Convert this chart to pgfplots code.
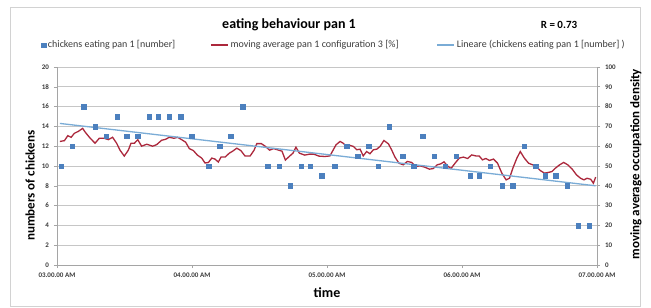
\documentclass[border=0pt]{standalone}
\usepackage{fontspec}
\setmainfont{Carlito}
\usepackage{pgfplots}
\pgfplotsset{compat=1.18}
\definecolor{ptblue}{RGB}{76,128,190}
\definecolor{avgred}{RGB}{172,40,60}
\definecolor{trendblue}{RGB}{122,172,214}
\definecolor{gridgray}{RGB}{198,198,198}
\definecolor{axgray}{RGB}{165,165,165}
\definecolor{ticktext}{RGB}{60,60,60}
\pgfplotsset{sqlegend/.style={legend image code/.code={\fill[ptblue] (-2.3pt,-2.3pt) rectangle (2.3pt,2.3pt);}}}
\begin{document}
\begin{tikzpicture}[x=1pt,y=1pt]
\useasboundingbox (0,0) rectangle (651,308);
\fill[white] (0,0) rectangle (651,308);
\draw[gray!35, line width=0.8pt] (10,2) rectangle (640,301);
\node[font=\fontsize{14}{16}\selectfont\bfseries] at (289,283) {eating behaviour pan 1};
\node[font=\fontsize{11}{13}\selectfont\bfseries] at (559,283) {R = 0.73};
% right axis: moving average (%)
\begin{axis}[
 at={(57pt,43pt)}, anchor=south west, scale only axis, width=540pt, height=198pt,
 xmin=0, xmax=240, ymin=0, ymax=100,
 axis x line=none, axis y line*=right,
 ytick={0,10,...,100},
 ymajorgrids, grid style={gridgray, line width=0.8pt},
 axis line style={axgray, line width=0.8pt},
 tick style={axgray, line width=0.6pt}, tick align=outside, major tick length=3pt,
 /pgf/number format/assume math mode=true,
 yticklabel style={font=\fontsize{7}{8}\selectfont\bfseries, text=ticktext, anchor=west, xshift=1.5pt},
 ylabel={moving average occupation density},
 ylabel style={font=\fontsize{13}{15}\selectfont\bfseries, at={(axis description cs:1.072,0.51)}, anchor=center},
]
\addplot[avgred, line width=1.3pt] coordinates {
(1.3,62.4)(3.3,62.8)(4.8,65.3)(6.3,64.5)(7.7,66.5)(9.5,67.5)(11.4,69)(12.6,67)(14.4,64.5)(16.9,61.5)
(18.8,64)(21,64)(22.8,63.3)(24.7,64.5)(26.5,61.5)(28,58)(29.9,55)(31.7,58)(32.9,61.5)(34.4,61.5)
(35.9,63.3)(37.6,60)(39.9,61)(42.5,60)(44.3,60.8)(46.5,63)(48.3,63.5)(49.9,64.5)(52,64)(53.6,64.5)
(55.4,63.3)(57.2,62)(58.8,58.8)(60.6,57.8)(62.4,55.5)(64.3,54)(65.8,51.5)(67.3,51.8)(68.8,54)(70.2,53.5)
(71.7,52)(72.9,54.5)(74.7,54.5)(76.6,56.5)(78.1,57.5)(79.9,59)(81.7,57.8)(83.6,55)(85.8,55)(87.6,58)
(88.8,61.3)(90.8,61.3)(92.5,60)(94.5,58)(96.3,58.8)(98.5,58)(100,57.5)(101.5,53)(103.4,55)(104.9,56.5)
(106.2,59.5)(107.7,56.5)(110.1,55.5)(112.3,56)(114.1,56)(116.4,55)(119.1,54.8)(121.3,55.1)(122.8,58.2)(124,60.7)
(125.8,62.4)(127.2,61.5)(128.7,59.9)(130.2,60.4)(131.7,59.9)(133.2,58.2)(134.7,58.5)(136.1,55.1)(137.6,57.3)(139.1,56.2)
(140.6,58.2)(142.1,58.5)(143.6,59.9)(145.3,62.9)(147.3,61.2)(148.7,58.2)(150.2,54.5)(152,51.4)(153.9,50.6)(155.7,52.3)
(157.6,51.8)(159.5,49.7)(161.3,50.1)(163.5,49.4)(165.5,48.4)(167.2,48.7)(169,50.6)(170.6,51.1)(172,52.1)(173.5,50.1)
(175.1,48.7)(176.9,51.4)(178.8,54)(180.6,54.5)(182.5,53.8)(184.3,55.6)(186.1,55.1)(187.6,55.1)(189.1,53.1)(190.6,53.8)
(192.2,52.8)(194,53.5)(195.8,51.4)(197.7,46.4)(199.6,43.0)(201.1,43.8)(202.6,48.9)(204.4,54)(205.9,57.3)(207.7,54)
(209.6,51.4)(211.4,50.6)(213,49.7)(214.8,47.7)(216.6,46.4)(218.2,46.7)(220,47.2)(221.5,48.9)(223.4,50.6)(225.2,51.8)
(227,50.6)(229,48.4)(230.9,45.5)(232.7,43.8)(234.2,43.0)(235.6,43.8)(237.2,43.3)(238.4,41.3)(239.4,44.4)
};
\end{axis}
% left axis: chickens
\begin{axis}[
 at={(57pt,43pt)}, anchor=south west, scale only axis, width=540pt, height=198pt,
 xmin=0, xmax=240, ymin=0, ymax=20,
 axis x line*=bottom, axis y line*=left,
 ytick={0,2,...,20},
 xtick={0,60,120,180,240},
 xticklabels={03.00.00 AM,04.00.00 AM,05.00.00 AM,06.00.00 AM,07.00.00 AM},
 axis line style={axgray, line width=0.8pt},
 tick style={axgray, line width=0.6pt}, tick align=outside, major tick length=3pt,
 /pgf/number format/assume math mode=true,
 yticklabel style={font=\fontsize{7}{8}\selectfont\bfseries, text=ticktext, xshift=-1.5pt},
 xticklabel style={font=\fontsize{7}{8}\selectfont\bfseries, text=ticktext, yshift=-1.5pt},
 ylabel={numbers of chickens},
 ylabel style={font=\fontsize{13}{15}\selectfont\bfseries, at={(axis description cs:-0.05,0.40)}, anchor=center},
 xlabel={time},
 xlabel style={font=\fontsize{14}{16}\selectfont\bfseries, at={(axis description cs:0.5,-0.141)}, anchor=center},
 legend columns=3,
 legend style={at={(axis description cs:-0.03,1.111)}, anchor=west, draw=none, fill=none, inner sep=0pt,
   font=\fontsize{10}{12}\selectfont, text=ticktext,
   /tikz/column 2/.style={column sep=33pt}, /tikz/column 4/.style={column sep=36pt}},
]
\addplot[only marks, mark=square*, mark size=2.3pt, mark options={draw=ptblue, fill=ptblue}, sqlegend] coordinates {
(1.8,10)(6.7,12)(11.9,16)(16.9,14)(21.8,13)(26.8,15)(31.0,13)(35.9,13)(40.9,15)(44.9,15)
(49.9,15)(55.0,15)(59.9,13)(67.4,10)(72.3,12)(77.3,13)(82.5,16)(93.6,10)(98.7,10)(103.6,8)
(108.6,10)(112.6,10)(117.6,9)(123.4,10)(128.7,12)(133.6,11)(138.5,12)(142.7,10)(147.7,14)(153.6,11)
(158.5,10)(162.5,13)(167.7,11)(172.6,10)(177.5,11)(183.6,9)(187.7,9)(192.6,10)(197.8,8)(202.5,8)
(207.7,12)(212.8,10)(216.9,9)(221.6,9)(226.7,8)(231.7,4)(236.6,4)
};
\addlegendentry{chickens eating pan 1 [number]}
\addlegendimage{avgred, line width=1.3pt}
\addlegendentry{moving average pan 1 configuration 3 [\%]}
\addplot[trendblue, line width=1.3pt] coordinates {(1.3,14.3)(239.4,8.0)};
\addlegendentry{Lineare (chickens eating pan 1 [number] )}
\end{axis}
\end{tikzpicture}
\end{document}
